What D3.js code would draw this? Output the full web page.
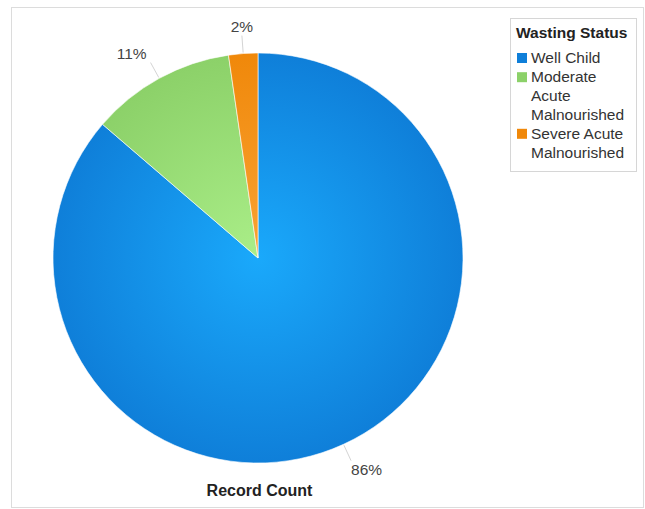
<!DOCTYPE html>
<html>
<head>
<meta charset="utf-8">
<script src="https://cdn.jsdelivr.net/npm/d3@7/dist/d3.min.js"></script>
<style>
  html, body { margin: 0; padding: 0; background: #fff; }
  svg { display: block; font-family: "Liberation Sans", Arial, sans-serif; }
</style>
</head>
<body>
<svg id="chart" width="645" height="509"></svg>
<script>
// Wasting status breakdown (share of records, %)
const categories = ["Well Child", "Moderate Acute Malnourished", "Severe Acute Malnourished"];
const legendLines = [["Well Child"], ["Moderate", "Acute", "Malnourished"], ["Severe Acute", "Malnourished"]];
const shares = [86.3, 11.4, 2.3];
const pctLabels = ["86%", "11%", "2%"];
const colors = ["#0f7fd9", "#8cd169", "#f0880a"];
const centerColors = ["#1aa9fb", "#aaee88", "#f9a334"];

const svg = d3.select("#chart");

// outer frame
svg.append("rect")
  .attr("x", 11.5).attr("y", 7.5)
  .attr("width", 632).attr("height", 500)
  .attr("fill", "#fff").attr("stroke", "#dcdcdc");

const cx = 258, cy = 258, R = 205;

// radial shading per slice, centred on the pie (coordinates local to the pie group)
const defs = svg.append("defs");
colors.forEach((c, i) => {
  const gr = defs.append("radialGradient")
    .attr("id", "grad" + i)
    .attr("gradientUnits", "userSpaceOnUse")
    .attr("cx", 0).attr("cy", 0).attr("r", R);
  gr.append("stop").attr("offset", "0%").attr("stop-color", centerColors[i]);
  gr.append("stop").attr("offset", "100%").attr("stop-color", c);
});

const pie = d3.pie().sort(null).value(d => d)(shares);
const arc = d3.arc().innerRadius(0).outerRadius(R);

const g = svg.append("g").attr("transform", `translate(${cx},${cy})`);
g.selectAll("path.slice")
  .data(pie)
  .join("path")
  .attr("class", "slice")
  .attr("d", arc)
  .attr("fill", (d, i) => `url(#grad${i})`)
  .attr("stroke", "#fff")
  .attr("stroke-width", 0.6);

// percentage labels with leader lines
const leadIn = d3.arc().innerRadius(R + 1).outerRadius(R + 1);
const leadOut = d3.arc().innerRadius(R + 18).outerRadius(R + 18);

g.selectAll("line.leader")
  .data(pie)
  .join("line")
  .attr("class", "leader")
  .attr("x1", d => leadIn.centroid(d)[0])
  .attr("y1", d => leadIn.centroid(d)[1])
  .attr("x2", d => leadOut.centroid(d)[0])
  .attr("y2", d => leadOut.centroid(d)[1])
  .attr("stroke", "#d4d4d4")
  .attr("stroke-width", 1);

// text sits just past the leader end, anchored away from the pie
function labelPos(d) {
  const [x, y] = leadOut.centroid(d);
  const side = x < -20 ? "end" : x > 20 ? "start" : "middle";
  const dx = side === "end" ? -4 : 0;
  const dy = (y < 0 ? -9 : 9) + 5.5;
  return { x: x + dx, y: y + dy, side };
}

g.selectAll("text.pct")
  .data(pie)
  .join("text")
  .attr("class", "pct")
  .attr("x", d => labelPos(d).x)
  .attr("y", d => labelPos(d).y)
  .attr("text-anchor", d => labelPos(d).side)
  .attr("font-size", 15.5)
  .attr("fill", "#444")
  .text((d, i) => pctLabels[i]);

// axis title
svg.append("text")
  .attr("x", 259.5).attr("y", 496)
  .attr("text-anchor", "middle")
  .attr("font-size", 16)
  .attr("font-weight", "bold")
  .attr("fill", "#222")
  .text("Record Count");

// legend
const lg = svg.append("g");
lg.append("rect")
  .attr("x", 510.5).attr("y", 18.5)
  .attr("width", 126).attr("height", 153)
  .attr("fill", "#fff").attr("stroke", "#d6d6d6");
lg.append("text")
  .attr("x", 516).attr("y", 38)
  .attr("font-size", 15.5).attr("font-weight", "bold")
  .attr("fill", "#222")
  .text("Wasting Status");

const lineH = 18.7;
let y = 63;
legendLines.forEach((lines, i) => {
  lg.append("rect")
    .attr("x", 517).attr("y", y - 10)
    .attr("width", 10).attr("height", 10)
    .attr("fill", colors[i]);
  const t = lg.append("text")
    .attr("font-size", 15.5).attr("fill", "#333");
  lines.forEach((s, k) => {
    t.append("tspan").attr("x", 531).attr("y", y + k * lineH).text(s);
  });
  y += lines.length * lineH + 0.5;
});
</script>
</body>
</html>
